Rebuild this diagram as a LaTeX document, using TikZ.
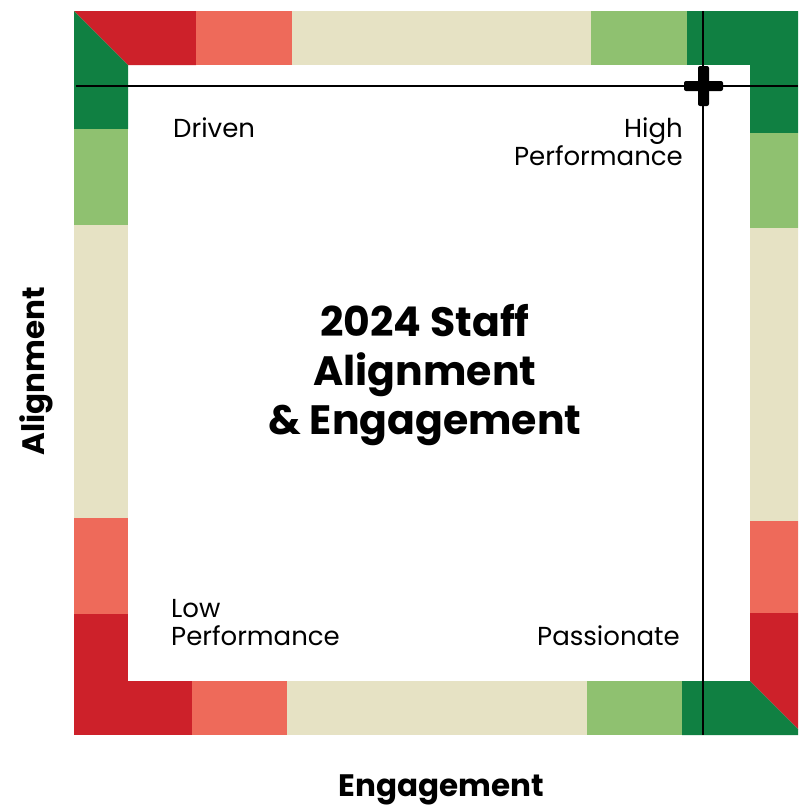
\documentclass[tikz,border=0pt]{standalone}
\usepackage{fontspec}
\setmainfont{Poppins}
\definecolor{cred}{RGB}{205,33,42}
\definecolor{csalmon}{RGB}{238,106,90}
\definecolor{cbeige}{RGB}{230,226,196}
\definecolor{clgreen}{RGB}{143,193,112}
\definecolor{cdgreen}{RGB}{16,128,66}
\begin{document}
\begin{tikzpicture}[x=1pt,y=-1pt,
  axisline/.style={draw=black,line width=2.2pt},
  quadlabel/.style={inner sep=0pt,font=\fontsize{26}{28}\selectfont},
  axislabel/.style={inner sep=0pt,font=\fontsize{31}{34}\selectfont\bfseries},
  titlelabel/.style={inner sep=0pt,align=center,font=\fontsize{41}{49}\selectfont\bfseries}]
\useasboundingbox (0,0) rectangle (798,806);
\fill[white] (0,0) rectangle (798,806);
\begin{scope}
\clip (0,0) rectangle (798,806);
% top strip
\fill[cred] (74,11) -- (196,11) -- (196,65) -- (128,65) -- cycle;
\fill[csalmon] (196,11) rectangle (292,65);
\fill[cbeige] (292,11) rectangle (591,65);
\fill[clgreen] (591,11) rectangle (687,65);
\fill[cdgreen] (687,11) rectangle (804,65);
% left strip
\fill[cdgreen] (74,11) -- (128,65) -- (128,129) -- (74,129) -- cycle;
\fill[clgreen] (74,129) rectangle (128,225);
\fill[cbeige] (74,225) rectangle (128,518);
\fill[csalmon] (74,518) rectangle (128,614);
\fill[cred] (74,614) rectangle (128,735);
% right strip
\fill[cdgreen] (750,65) rectangle (804,133);
\fill[clgreen] (750,133) rectangle (804,228);
\fill[cbeige] (750,228) rectangle (804,521);
\fill[csalmon] (750,521) rectangle (804,613);
\fill[cred] (750,613) -- (804,613) -- (804,735) -- (750,681) -- cycle;
% bottom strip
\fill[cred] (128,681) rectangle (192,735);
\fill[csalmon] (192,681) rectangle (287,735);
\fill[cbeige] (287,681) rectangle (587,735);
\fill[clgreen] (587,681) rectangle (682,735);
\fill[cdgreen] (682,681) -- (750,681) -- (804,735) -- (682,735) -- cycle;
\end{scope}
% axes
\coordinate (hl) at (76,86);
\coordinate (hr) at (798,86);
\coordinate (vt) at (703,11);
\coordinate (vb) at (703,735);
\draw[axisline] (hl) -- (hr);
\draw[axisline] (vt) -- (vb);
% plus marker
\fill[black,rounded corners=2pt] (684,81) rectangle (723,91);
\fill[black,rounded corners=2pt] (698,66) rectangle (709,106);
% labels
\node[quadlabel,anchor=base west] (driven) at (173,137) {Driven};
\node[quadlabel,anchor=base east] (high) at (683,137) {High};
\node[quadlabel,anchor=base east] (highperf) at (683,165) {Performance};
\node[quadlabel,anchor=base west] (low) at (171,617) {Low};
\node[quadlabel,anchor=base west] (lowperf) at (171,645) {Performance};
\node[quadlabel,anchor=base east] (passionate) at (680,645) {Passionate};
\node[titlelabel] (title) at (425,375) {2024 Staff\\Alignment\\\& Engagement};
\node[axislabel,anchor=base,rotate=90] (align) at (44,371) {Alignment};
\node[axislabel,anchor=base] (engage) at (441,796) {Engagement};
\end{tikzpicture}
\end{document}
